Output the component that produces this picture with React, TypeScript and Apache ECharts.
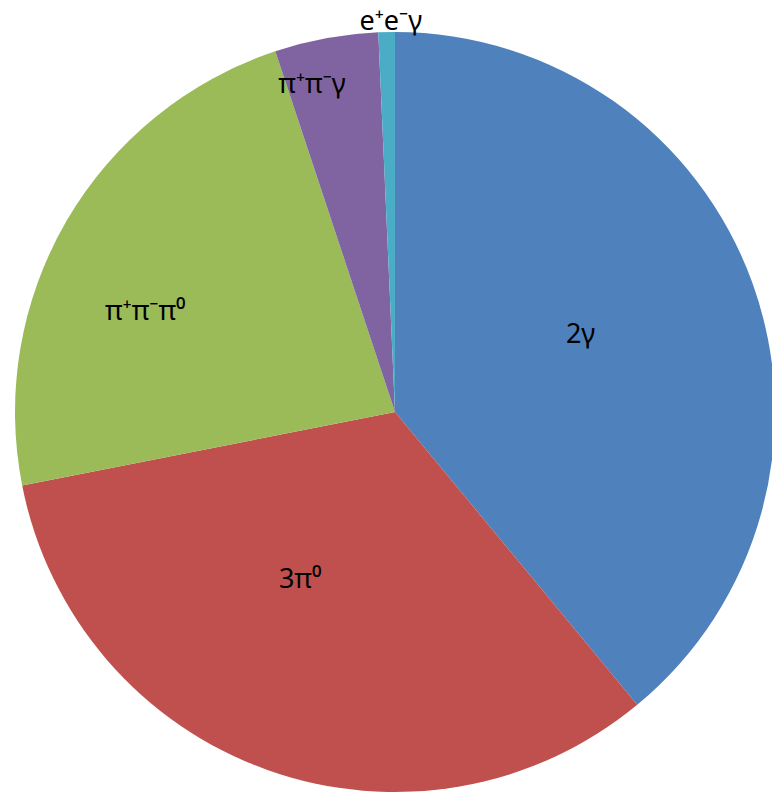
import React, { useEffect, useRef } from "react";
import * as echarts from "echarts";

const categories = ["2γ", "3π⁰", "π⁺π⁻π⁰", "π⁺π⁻γ", "e⁺e⁻γ"];
const values = [39.0, 32.9, 23.0, 4.4, 0.7];
const colors = ["#4F81BD", "#C0504D", "#9BBB59", "#8064A2", "#4BACC6"];
const labelOffsets: [number, number][] = [
  [4, -14],
  [-30, -16],
  [-83, -5],
  [-48, -140],
  [0, -200],
];

export default function App() {
  const ref = useRef<HTMLDivElement>(null);
  useEffect(() => {
    document.body.style.margin = "0";
    const chart = echarts.init(ref.current!, null, { renderer: "svg" });
    chart.setOption({
      animation: false,
      backgroundColor: "#ffffff",
      series: [
        {
          type: "pie",
          center: [395, 412],
          radius: [0, 380],
          startAngle: 90,
          clockwise: true,
          avoidLabelOverlap: false,
          labelLine: { show: false },
          itemStyle: { borderWidth: 0 },
          emphasis: { disabled: true },
          label: {
            show: true,
            position: "inside",
            color: "#000000",
            fontFamily: "Noto Sans",
            fontSize: 27,
            formatter: "{b}",
          },
          data: categories.map((name, i) => ({
            name,
            value: values[i],
            itemStyle: { color: colors[i] },
            label: { offset: labelOffsets[i] },
          })),
        },
      ],
    });
    return () => chart.dispose();
  }, []);
  return <div ref={ref} style={{ width: 772, height: 795 }} />;
}
